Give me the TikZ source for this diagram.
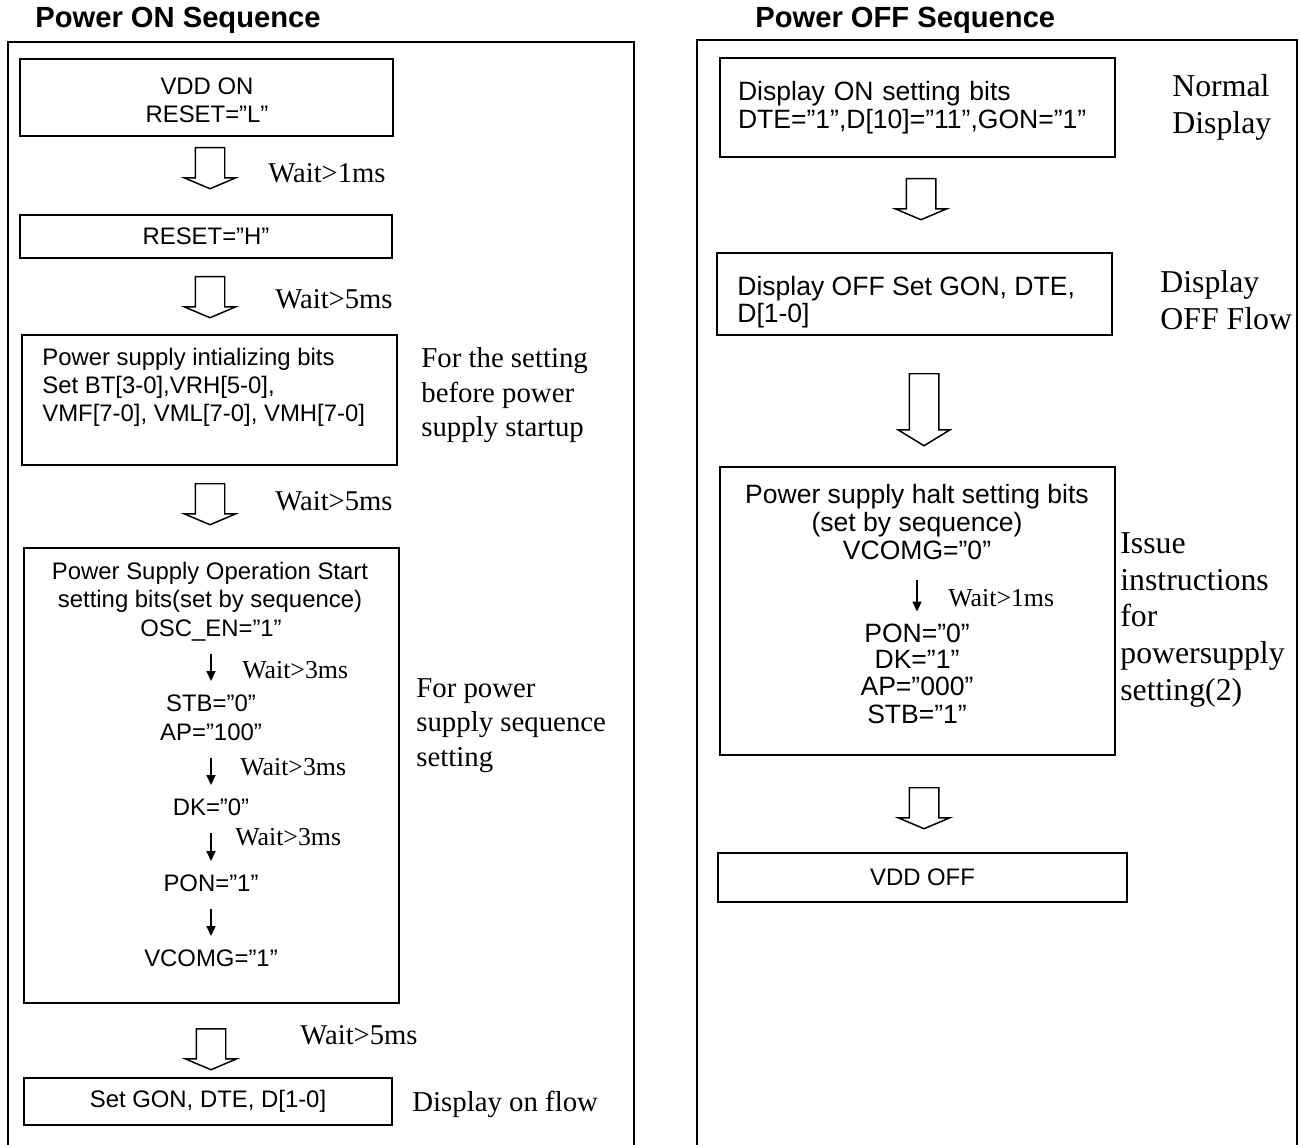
\documentclass[tikz,border=0pt]{standalone}
\usepackage{fontspec}
\setmainfont{Liberation Serif}
\setsansfont{Liberation Sans}
\usepackage{tikz}
\usetikzlibrary{shapes.arrows,arrows.meta}
\newcommand{\sansL}{\sffamily\fontsize{13.6}{15.9}\selectfont}
\newcommand{\sansR}{\sffamily\fontsize{15.1}{15.6}\selectfont}
\newcommand{\serifL}{\rmfamily\fontsize{16.4}{19.6}\selectfont}
\newcommand{\serifR}{\rmfamily\fontsize{18.1}{21}\selectfont}
\newcommand{\waitL}{\rmfamily\fontsize{16.3}{19}\selectfont}
\newcommand{\waitS}{\rmfamily\fontsize{14.7}{17}\selectfont}
\newcommand{\titlefnt}{\sffamily\bfseries\fontsize{16.6}{20}\selectfont}
\tikzset{
  seqbox/.style = {rectangle, draw=black, line width=1.1pt, inner sep=0pt},
  box_l/.style = {seqbox, font=\sansL, align=center},
  box_r/.style = {seqbox, font=\sansR, align=center},
  step_l/.style = {inner sep=0pt, font=\sansL, text height=9.8pt, text depth=0pt},
  step_r/.style = {inner sep=0pt, font=\sansR, text height=10.9pt, text depth=0pt},
  note_l/.style = {inner sep=0pt, anchor=west, font=\serifL, align=left},
  note_r/.style = {inner sep=0pt, anchor=west, font=\serifR, align=left},
  wait_l/.style = {inner sep=0pt, anchor=west, font=\waitL},
  wait_s/.style = {inner sep=0pt, anchor=west, font=\waitS},
  hollow/.style = {single arrow, draw=black, line width=0.85pt,
    inner xsep=0pt, inner ysep=0.28cm, minimum width=0pt,
    single arrow head extend=0.22cm, single arrow head indent=0pt,
    single arrow tip angle=134, minimum height=0.82cm,
    rotate=-90, anchor=tail},% hollow block arrow, points down
  thinarr/.style = {-{Triangle[length=2mm,width=1.8mm]}, line width=0.9pt,
    shorten <=0.34cm, shorten >=0.26cm}
}

\begin{document}
\begin{tikzpicture}[x=0.02cm, y=-0.02cm]
\useasboundingbox (0,0) rectangle (1301,1145);
%
% frames and titles
\draw[line width=1.1pt] (8,1146) -- (8,42) -- (634,42) -- (634,1146);
\draw[line width=1.1pt] (697,1146) -- (697,40) -- (1297,40) -- (1297,1146);
\node (titleON) [inner sep=0pt, anchor=west, font=\titlefnt] at (35,20) {Power ON Sequence};
\node (titleOFF) [inner sep=0pt, anchor=west, font=\titlefnt] at (755,20) {Power OFF Sequence};
%
% Power ON sequence
\node (vddon) [seqbox, minimum width=7.46cm, minimum height=1.54cm] at (206.5,97.5) {};
\node (vddonT) [inner sep=0pt, font=\sansL, align=center] at (207,100) {VDD ON\\RESET=”L”};
\node (w1) [hollow] at (210,147) {};
\node (t1) [wait_l] at (268,173) {Wait>1ms};
\node (rsth) [box_l, minimum width=7.44cm, minimum height=0.86cm] at (206,236.5)
  {RESET=”H”};
\node (w2) [hollow] at (210,276) {};
\node (t2) [wait_l] at (275,299) {Wait>5ms};
\node (init) [seqbox, minimum width=7.5cm, minimum height=2.6cm] at (209.5,400) {};
\node (initT) [inner sep=0pt, anchor=west, font=\sansL, align=left] at (42,387.5)
  {Power supply intializing bits\\Set BT[3-0],VRH[5-0],\\VMF[7-0], VML[7-0], VMH[7-0]};
\node (n1) [note_l] at (421,395.5) {For the setting\\before power\\supply startup};
\node (w3) [hollow] at (210,483) {};
\node (t3) [wait_l] at (275,501) {Wait>5ms};
%
\node (start) [seqbox, minimum width=7.5cm, minimum height=9.1cm] at (211.5,775.5) {};
\node (startT) [inner sep=0pt, font=\sansL, align=center] at (210,587)
  {Power Supply Operation Start\\setting bits(set by sequence)};
\node (osc) [step_l] at (211,628) {OSC\_EN=”1”};
\node (stb) [step_l] at (211,703) {STB=”0”};
\node (ap) [step_l] at (211,732) {AP=”100”};
\node (dk) [step_l] at (211,807) {DK=”0”};
\node (pon) [step_l] at (211,883) {PON=”1”};
\node (vcomg) [step_l] at (211,958) {VCOMG=”1”};
\draw[thinarr] (osc) -- (stb);
\draw[thinarr] (ap) -- (dk);
\draw[thinarr] (dk) -- (pon);
\draw[thinarr] (pon) -- (vcomg);
\node (t4) [wait_s] at (242,670) {Wait>3ms};
\node (t5) [wait_s] at (240,767) {Wait>3ms};
\node (t6) [wait_s] at (235,837) {Wait>3ms};
\node (n2) [note_l] at (416,725.5) {For power\\supply sequence\\setting};
%
\node (w4) [hollow] at (211,1028) {};
\node (t7) [wait_l] at (300,1035) {Wait>5ms};
\node (dspon) [box_l, minimum width=7.36cm, minimum height=0.94cm] at (208,1101.5)
  {Set GON, DTE, D[1-0]};
\node (n3) [note_l] at (412,1104) {Display on flow};
%
% Power OFF sequence
\node (dspbits) [box_r, align=left, inner xsep=0.36cm, text width=7.18cm,
  minimum width=7.9cm, minimum height=1.98cm] at (917.5,107.5)
  {Display ON setting bits\\DTE=”1”,D[10]=”11”,GON=”1”};
\node (n4) [note_r] at (1172,107.5) {Normal\\Display};
\node (r1) [hollow] at (921,178) {};
\node (dspoff) [seqbox, minimum width=7.9cm, minimum height=1.64cm] at (914.5,294) {};
\node (dspoffT) [inner sep=0pt, anchor=west, align=left,
  font={\sffamily\fontsize{15.1}{15.3}\selectfont}] at (737,302.5)
  {Display OFF Set GON, DTE,\\D[1-0]};
\node (n5) [note_r] at (1160,300) {Display\\OFF Flow};
\node (r2) [hollow, minimum height=1.44cm, single arrow tip angle=117] at (924,373) {};
%
\node (halt) [seqbox, minimum width=7.9cm, minimum height=5.76cm] at (917.5,611) {};
\node (haltT) [inner sep=0pt, font=\sansR, align=center] at (917,510.5)
  {Power supply halt setting bits\\(set by sequence)};
\node (vcomg0) [step_r] at (917,550) {VCOMG=”0”};
\node (pon0) [step_r] at (917,633) {PON=”0”};
\node (dk1) [step_r] at (917,659) {DK=”1”};
\node (ap0) [step_r] at (917,686) {AP=”000”};
\node (stb1) [step_r] at (917,714) {STB=”1”};
\draw[thinarr, shorten <=0.41cm, shorten >=0.23cm] (vcomg0) -- (pon0);
\node (t8) [wait_s] at (948,598) {Wait>1ms};
\node (n6) [note_r] at (1120,620)
  {Issue\\instructions\\for\\powersupply\\setting(2)};
%
\node (r3) [hollow] at (924,787) {};
\node (vddoff) [box_l, minimum width=8.18cm, minimum height=0.98cm] at (922.5,877.5)
  {VDD OFF};
\end{tikzpicture}
\end{document}
